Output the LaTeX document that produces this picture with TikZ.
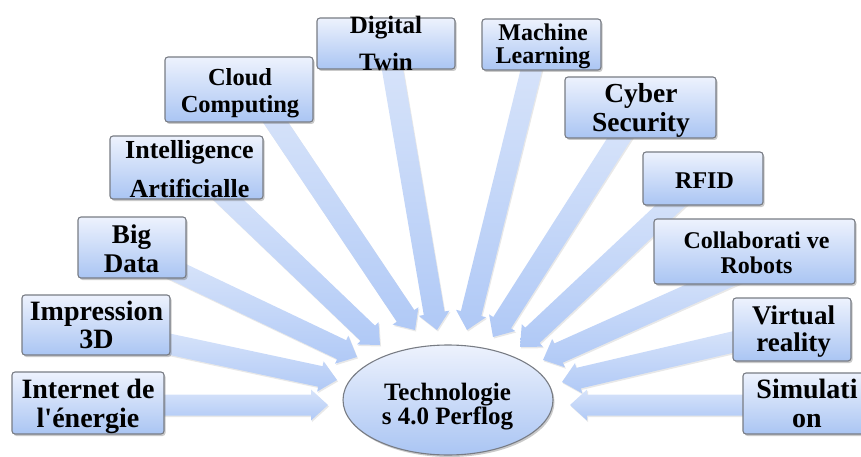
\documentclass[tikz,border=0pt]{standalone}
\usepackage{fontspec}
\newfontfamily\lib{Liberation Serif}
\usetikzlibrary{calc,shadows,backgrounds,shapes.geometric}
\definecolor{boxtop}{RGB}{237,242,253}
\definecolor{boxbot}{RGB}{170,197,243}
\definecolor{arrtop}{RGB}{216,228,250}
\definecolor{arrbot}{RGB}{176,201,246}
\definecolor{edgegray}{RGB}{120,124,132}
\newcommand\stt{\rule[-0.2em]{0pt}{0.9em}}
\newcommand\bigarr[3]{%
  \coordinate (#1H) at ($(#3)!17pt!(#2)$);
  \path[arrowfill] (#3) -- ($(#1H)!15.5pt!90:(#3)$) -- ($(#1H)!10.5pt!90:(#3)$)
     -- ($(#2)!10.5pt!90:(#3)$) -- ($(#2)!10.5pt!-90:(#3)$)
     -- ($(#1H)!10.5pt!-90:(#3)$) -- ($(#1H)!15.5pt!-90:(#3)$) -- cycle;}
\tikzset{
  box/.style={draw=edgegray, line width=1.1pt, rounded corners=3pt,
    top color=boxtop, bottom color=boxbot, inner sep=0pt,
    drop shadow={shadow xshift=1.5pt, shadow yshift=-2pt, opacity=0.35, fill=black!60}},
  txt/.style={align=center, inner sep=0pt, text=black},
  arrowfill/.style={top color=arrtop, bottom color=arrbot, draw=none,
    drop shadow={shadow xshift=1pt, shadow yshift=-1.5pt, opacity=0.18, fill=black!50}},
}
\begin{document}
\begin{tikzpicture}[x=1pt,y=-1pt]
\useasboundingbox (0,0) rectangle (861,457);
% core
\node[ellipse, draw=edgegray, line width=1.1pt, minimum width=210pt, minimum height=110pt,
  top color=boxtop, bottom color=boxbot,
  drop shadow={shadow xshift=1.5pt, shadow yshift=-2pt, opacity=0.35, fill=black!60}] (core) at (448,400) {};
% boxes
\node[box, minimum width=152pt, minimum height=62pt] (inet) at (88,403) {};
\node[box, minimum width=148pt, minimum height=60pt] (imp) at (96,325) {};
\node[box, minimum width=108pt, minimum height=61pt] (big) at (132,247.5) {};
\node[box, minimum width=153pt, minimum height=63pt] (ia) at (186.5,167.5) {};
\node[box, minimum width=148pt, minimum height=65pt] (cloud) at (239,89.5) {};
\node[box, minimum width=138pt, minimum height=51pt] (twin) at (386,43.5) {};
\node[box, minimum width=119pt, minimum height=51pt] (ml) at (541.5,44.5) {};
\node[box, minimum width=151pt, minimum height=61pt] (cyber) at (640.5,107.5) {};
\node[box, minimum width=120pt, minimum height=53pt] (rfid) at (703,178.5) {};
\node[box, minimum width=201pt, minimum height=65pt] (cobot) at (754.5,251.5) {};
\node[box, minimum width=118pt, minimum height=63pt] (vr) at (792,329.5) {};
\node[box, minimum width=132pt, minimum height=61pt] (sim) at (809,403.5) {};
% arrows
\begin{pgfonlayer}{background}
\coordinate (s1) at ($(inet.center)+(62,2)$);   \coordinate (t1) at ($(core.center)+(-120,5)$);
\coordinate (s2) at ($(imp.center)+(54,15)$);   \coordinate (t2) at ($(core.center)+(-111,-20)$);
\coordinate (s3) at ($(big.center)+(38,20.5)$); \coordinate (t3) at ($(core.center)+(-91,-43)$);
\coordinate (s4) at ($(ia.center)+(26.5,17.5)$);\coordinate (t4) at ($(core.center)+(-68,-55)$);
\coordinate (s5) at ($(cloud.center)+(25,15.5)$);\coordinate (t5) at ($(core.center)+(-33,-70)$);
\coordinate (s6) at ($(twin.center)+(4,11.5)$); \coordinate (t6) at ($(core.center)+(-11,-70)$);
\coordinate (s7) at ($(ml.center)+(-6.5,10.5)$);\coordinate (t7) at ($(core.center)+(19,-70)$);
\coordinate (s8) at ($(cyber.center)+(-12.5,17.5)$);\coordinate (t8) at ($(core.center)+(45,-63)$);
\coordinate (s9) at ($(rfid.center)+(-18,13.5)$);\coordinate (t9) at ($(core.center)+(72,-53)$);
\coordinate (s10) at ($(cobot.center)+(-10.5,18.5)$);\coordinate (t10) at ($(core.center)+(95,-40)$);
\coordinate (s11) at ($(vr.center)+(-42,8.5)$); \coordinate (t11) at ($(core.center)+(114,-18)$);
\coordinate (s12) at ($(sim.center)+(-49,1.5)$);\coordinate (t12) at ($(core.center)+(122,5)$);
\bigarr{a1}{s1}{t1}
\bigarr{a2}{s2}{t2}
\bigarr{a3}{s3}{t3}
\bigarr{a4}{s4}{t4}
\bigarr{a5}{s5}{t5}
\bigarr{a6}{s6}{t6}
\bigarr{a7}{s7}{t7}
\bigarr{a8}{s8}{t8}
\bigarr{a9}{s9}{t9}
\bigarr{a10}{s10}{t10}
\bigarr{a11}{s11}{t11}
\bigarr{a12}{s12}{t12}
\end{pgfonlayer}
% texts
\node[txt, font=\lib\fontsize{28}{29}\selectfont\bfseries] (inet-t) at (88,406.5) {\stt Internet de\\\stt l'énergie};
\node[txt, font=\lib\fontsize{28}{28}\selectfont\bfseries] (imp-t) at (96.5,327) {\stt Impression\\\stt 3D};
\node[txt, font=\lib\fontsize{27}{29}\selectfont\bfseries] (big-t) at (131.5,250.75) {\stt Big\\\stt Data};
\node[txt, font=\lib\fontsize{26}{39}\selectfont\bfseries] (ia-t) at (189.5,171) {\stt Intelligence\\\stt Artificialle};
\node[txt, font=\lib\fontsize{24.5}{27}\selectfont\bfseries] (cloud-t) at (240,93.5) {\stt Cloud\\\stt Computing};
\node[txt, font=\lib\fontsize{25}{37}\selectfont\bfseries] (twin-t) at (386,46.25) {\stt Digital\\\stt Twin};
\node[txt, font=\lib\fontsize{24}{23}\selectfont\bfseries] (ml-t) at (543,46.5) {\stt Machine\\\stt Learning};
\node[txt, font=\lib\fontsize{27.5}{29}\selectfont\bfseries] (cyber-t) at (641,110.6) {\stt Cyber\\\stt Security};
\node[txt, font=\lib\fontsize{24}{24}\selectfont\bfseries] (rfid-t) at (704.5,182) {\stt RFID};
\node[txt, font=\lib\fontsize{24}{25}\selectfont\bfseries] (cobot-t) at (756.5,254.5) {\stt Collaborati ve\\\stt Robots};
\node[txt, font=\lib\fontsize{27}{27}\selectfont\bfseries] (vr-t) at (793.5,331.75) {\stt Virtual\\\stt reality};
\node[txt, font=\lib\fontsize{28}{29}\selectfont\bfseries] (sim-t) at (807,405.5) {\stt Simulati\\\stt on};
\node[txt, font=\lib\fontsize{25}{24.5}\selectfont\bfseries] (core-t) at (447.5,406.6) {\stt Technologie\\\stt s 4.0 Perflog};
\end{tikzpicture}
\end{document}
